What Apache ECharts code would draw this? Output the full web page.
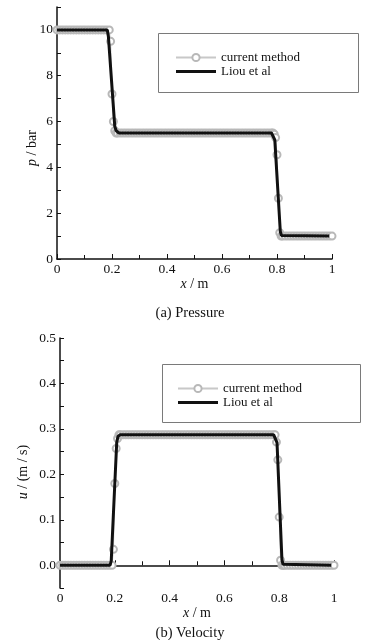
<!DOCTYPE html>
<html>
<head>
<meta charset="utf-8">
<script src="https://cdn.jsdelivr.net/npm/echarts@6/dist/echarts.min.js"></script>
<style>
html,body{margin:0;padding:0;background:#fff;}
#c{width:385px;height:640px;}
</style>
</head>
<body>
<div id="c"></div>
<script>
// ---- data ----
const xCurrent = [0,0.01,0.02,0.03,0.04,0.05,0.06,0.07,0.08,0.09,0.1,0.11,0.12,0.13,0.14,0.15,0.16,0.17,0.18,
  0.19,0.195,0.2,0.205,0.21,0.215,
  0.22,0.23,0.24,0.25,0.26,0.27,0.28,0.29,0.3,0.31,0.32,0.33,0.34,0.35,0.36,0.37,0.38,0.39,0.4,0.41,0.42,0.43,0.44,0.45,0.46,0.47,0.48,0.49,0.5,0.51,0.52,0.53,0.54,0.55,0.56,0.57,0.58,0.59,0.6,0.61,0.62,0.63,0.64,0.65,0.66,0.67,0.68,0.69,0.7,0.71,0.72,0.73,0.74,0.75,0.76,0.77,0.78,
  0.785,0.79,0.795,0.8,0.805,0.81,0.815,
  0.82,0.83,0.84,0.85,0.86,0.87,0.88,0.89,0.9,0.91,0.92,0.93,0.94,0.95,0.96,0.97,0.98,0.99,1];

const pCurrent = [10,10,10,10,10,10,10,10,10,10,10,10,10,10,10,10,10,10,10,
  10,9.5,7.2,6.0,5.6,5.5,
  5.5,5.5,5.5,5.5,5.5,5.5,5.5,5.5,5.5,5.5,
  5.5,5.5,5.5,5.5,5.5,5.5,5.5,5.5,5.5,5.5,
  5.5,5.5,5.5,5.5,5.5,5.5,5.5,5.5,5.5,5.5,
  5.5,5.5,5.5,5.5,5.5,5.5,5.5,5.5,5.5,5.5,
  5.5,5.5,5.5,5.5,5.5,5.5,5.5,5.5,5.5,5.5,
  5.5,5.5,5.5,5.5,5.5,5.5,5.5,
  5.5,5.45,5.3,4.55,2.65,1.15,1.0,
  1,1,1,1,1,1,1,1,1,1,1,1,1,1,1,1,1,1,1];

const uCurrent = [0,0,0,0,0,0,0,0,0,0,0,0,0,0,0,0,0,0,0,
  0,0.035,0.18,0.257,0.279,0.287,
  0.287,0.287,0.287,0.287,0.287,0.287,0.287,0.287,0.287,0.287,
  0.287,0.287,0.287,0.287,0.287,0.287,0.287,0.287,0.287,0.287,
  0.287,0.287,0.287,0.287,0.287,0.287,0.287,0.287,0.287,0.287,
  0.287,0.287,0.287,0.287,0.287,0.287,0.287,0.287,0.287,0.287,
  0.287,0.287,0.287,0.287,0.287,0.287,0.287,0.287,0.287,0.287,
  0.287,0.287,0.287,0.287,0.287,0.287,0.287,
  0.287,0.271,0.232,0.106,0.011,0,0,
  0,0,0,0,0,0,0,0,0,0,0,0,0,0,0,0,0,0,0];

const xLiouP = [0,0.183,0.187,0.21,0.215,0.225,0.78,0.787,0.792,0.812,0.816,0.822,0.99];
const pLiou  = [10,10,9.7,5.8,5.6,5.5,5.5,5.45,5.2,1.2,1.03,1.0,1.0];

const xLiouU = [0,0.183,0.187,0.207,0.212,0.22,0.78,0.787,0.792,0.81,0.814,0.82,0.99];
const uLiou  = [0,0,0.01,0.27,0.284,0.287,0.287,0.284,0.27,0.012,0.002,0,0];

const seriesNames = ['current method','Liou et al'];
const captions = ['(a) Pressure','(b) Velocity'];
const xTickLabels = ['0','0.2','0.4','0.6','0.8','1'];

// ---- chart ----
const FONT = '"Liberation Serif", "DejaVu Serif", serif';
const TXT = '#111';
const GRAY = '#b8b8b8';

const pair = (xs, ys) => xs.map((x, i) => [x, ys[i]]);

function xAxisCfg(gi){
  return {
    type:'value', gridIndex:gi, min:0, max:1, interval:0.2,
    name:'{i|x} / m', nameLocation:'middle', nameGap:17,
    nameTextStyle:{fontFamily:FONT,fontSize:14,color:TXT,rich:{i:{fontStyle:'italic',fontFamily:FONT,fontSize:14,color:TXT}}},
    axisLine:{lineStyle:{color:'#111',width:1.5}},
    axisTick:{inside:true,length:5,lineStyle:{color:'#111',width:1}},
    minorTick:{show:true,splitNumber:2,length:4,lineStyle:{color:'#111',width:1}},
    axisLabel:{fontFamily:FONT,fontSize:13.5,color:TXT,margin:3,
      formatter:(v)=>{const k=Math.round(v/0.2); return xTickLabels[k]!==undefined?xTickLabels[k]:'';}},
    splitLine:{show:false}
  };
}

const legendData = [
  {name:seriesNames[0]},
  {name:seriesNames[1], icon:'path://M0,0 L40,0 L40,3 L0,3 Z', itemStyle:{color:'#111'}}
];

const option = {
  backgroundColor:'#fff',
  animation:false,
  grid:[
    {left:57,top:7,width:275,height:252},
    {left:60,top:338,width:274,height:250}
  ],
  xAxis:[xAxisCfg(0), xAxisCfg(1)],
  yAxis:[
    {type:'value',gridIndex:0,min:0,max:11,interval:1,
      axisLine:{show:true,lineStyle:{color:'#111',width:1.5}},
      axisTick:{inside:true,length:4,lineStyle:{color:'#111',width:1}},
      axisLabel:{fontFamily:FONT,fontSize:13.5,color:TXT,margin:4,
        formatter:(v)=>(Math.round(v)%2===0 && v<=10)?String(Math.round(v)):''},
      splitLine:{show:false}},
    {type:'value',gridIndex:1,min:-0.05,max:0.5,interval:0.05,
      axisLine:{show:true,lineStyle:{color:'#111',width:1.5}},
      axisTick:{inside:true,length:4,lineStyle:{color:'#111',width:1}},
      axisLabel:{fontFamily:FONT,fontSize:13.5,color:TXT,margin:4,
        formatter:(v)=>{const t=v*10; return (v>-1e-6 && Math.abs(t-Math.round(t))<1e-6)?(Math.round(t)/10).toFixed(1):'';}},
      splitLine:{show:false}}
  ],
  legend:[
    {orient:'vertical',left:170,top:46,padding:5,itemWidth:40,itemHeight:9,itemGap:1,
      data:legendData,textStyle:{fontFamily:FONT,fontSize:13,color:TXT,lineHeight:13}},
    {orient:'vertical',left:172,top:377,padding:5,itemWidth:40,itemHeight:9,itemGap:1,
      data:legendData,textStyle:{fontFamily:FONT,fontSize:13,color:TXT,lineHeight:13}}
  ],
  graphic:[
    {type:'rect',left:158,top:33,shape:{width:200,height:59},style:{fill:'#fff',stroke:'#7a7a7a',lineWidth:1},z:-1},
    {type:'rect',left:162,top:364,shape:{width:198,height:58},style:{fill:'#fff',stroke:'#7a7a7a',lineWidth:1},z:-1},
    {type:'text',x:32,y:148,rotation:Math.PI/2,
      style:{text:'{i|p} / bar',fontFamily:FONT,fontSize:14,fill:TXT,align:'center',verticalAlign:'middle',
        rich:{i:{fontStyle:'italic',fontFamily:FONT,fontSize:14,fill:TXT}}}},
    {type:'text',x:23,y:472,rotation:Math.PI/2,
      style:{text:'{i|u} / (m / s)',fontFamily:FONT,fontSize:14,fill:TXT,align:'center',verticalAlign:'middle',
        rich:{i:{fontStyle:'italic',fontFamily:FONT,fontSize:14,fill:TXT}}}},
    {type:'text',x:190,y:313,style:{text:captions[0],fontFamily:FONT,fontSize:14.5,fill:TXT,align:'center',verticalAlign:'middle'}},
    {type:'text',x:190,y:633,style:{text:captions[1],fontFamily:FONT,fontSize:14.5,fill:TXT,align:'center',verticalAlign:'middle'}}
  ],
  series:[
    {name:seriesNames[0],type:'line',xAxisIndex:0,yAxisIndex:0,data:pair(xCurrent,pCurrent),
      symbol:'emptyCircle',symbolSize:7,showAllSymbol:true,
      itemStyle:{color:GRAY,borderColor:GRAY,borderWidth:1.2},lineStyle:{color:'#c8c8c8',width:1},z:2},
    {name:seriesNames[1],type:'line',xAxisIndex:0,yAxisIndex:0,data:pair(xLiouP,pLiou),
      symbol:'none',itemStyle:{color:'#111'},lineStyle:{color:'#111',width:3},z:3},
    {name:seriesNames[0],type:'line',xAxisIndex:1,yAxisIndex:1,data:pair(xCurrent,uCurrent),
      symbol:'emptyCircle',symbolSize:7,showAllSymbol:true,
      itemStyle:{color:GRAY,borderColor:GRAY,borderWidth:1.2},lineStyle:{color:'#c8c8c8',width:1},z:2},
    {name:seriesNames[1],type:'line',xAxisIndex:1,yAxisIndex:1,data:pair(xLiouU,uLiou),
      symbol:'none',itemStyle:{color:'#111'},lineStyle:{color:'#111',width:3},z:3}
  ]
};

const chart = echarts.init(document.getElementById('c'), null, {renderer:'canvas'});
chart.setOption(option);
</script>
</body>
</html>
